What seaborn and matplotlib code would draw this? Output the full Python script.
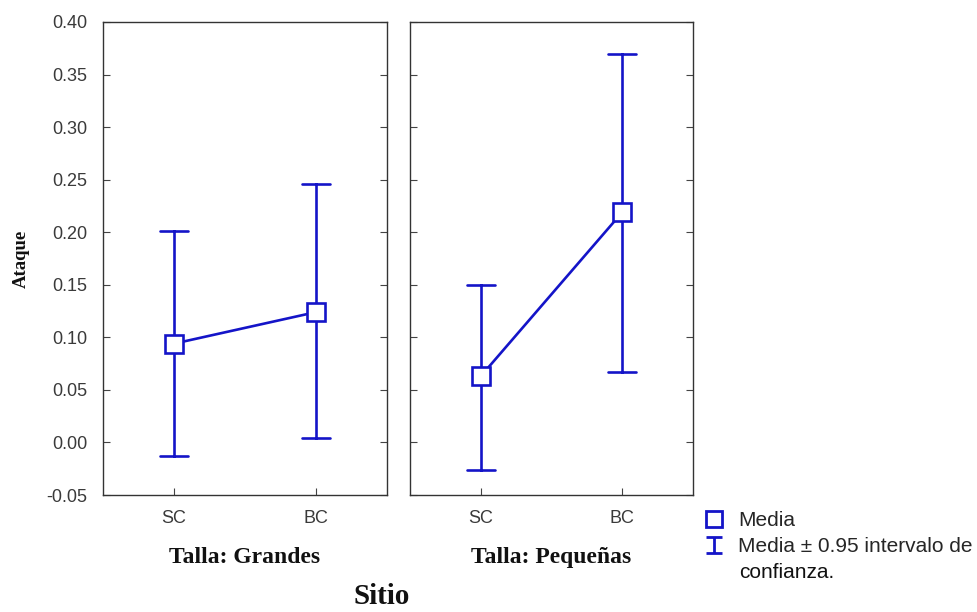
import matplotlib
matplotlib.use("Agg")
import matplotlib.pyplot as plt
from matplotlib.lines import Line2D
from matplotlib.path import Path
import seaborn as sns
import pandas as pd

# Group means with 95% confidence limits
sitios = ["SC", "BC"]
tallas = ["Talla: Grandes", "Talla: Pequeñas"]
media_grandes = [0.094, 0.124]
inf_grandes = [-0.013, 0.004]
sup_grandes = [0.201, 0.246]
media_pequenas = [0.063, 0.219]
inf_pequenas = [-0.026, 0.067]
sup_pequenas = [0.150, 0.370]
yticks = [-0.05, 0.00, 0.05, 0.10, 0.15, 0.20, 0.25, 0.30, 0.35, 0.40]

BLUE = "#1414c8"
sns.set_theme(style="white")
plt.rcParams["font.family"] = ["Liberation Sans", "DejaVu Sans"]

def long_form(media, inf, sup):
    rows = []
    for s, m, lo, hi in zip(sitios, media, inf, sup):
        for v in (lo, m, hi):
            rows.append({"Sitio": s, "Ataque": v})
    return pd.DataFrame(rows)

paneles = [
    long_form(media_grandes, inf_grandes, sup_grandes),
    long_form(media_pequenas, inf_pequenas, sup_pequenas),
]

fig = plt.figure(figsize=(9.78, 6.12), dpi=100)
W, H = 978, 612
boxes = [(103, 387), (410, 693)]
top, bottom = 22, 495
serif = dict(fontfamily="Liberation Serif", fontweight="bold", color="#111111")

for i, (df, (x0, x1), titulo) in enumerate(zip(paneles, boxes, tallas)):
    ax = fig.add_axes([x0 / W, 1 - bottom / H, (x1 - x0) / W, (bottom - top) / H])
    sns.pointplot(
        data=df, x="Sitio", y="Ataque", order=sitios, ax=ax,
        estimator="median", errorbar=lambda v: (v.min(), v.max()),
        color=BLUE, markers="s", capsize=0.2,
        linewidth=1.9,
        err_kws={"linewidth": 1.9, "zorder": 1},
        markersize=12.5, markerfacecolor="white", markeredgecolor=BLUE,
        markeredgewidth=1.9, zorder=3,
    )
    ax.set_xlim(-0.5, 1.5)
    ax.set_ylim(-0.05, 0.40)
    ax.set_yticks(yticks)
    ax.set_xlabel(titulo, fontsize=17, labelpad=14, **serif)
    ax.set_ylabel("")
    ax.tick_params(axis="both", direction="in", length=5, width=0.8,
                   colors="#444444", labelsize=13, labelcolor="#3a3a3a",
                   right=True, bottom=True, left=True, pad=11)
    if i == 0:
        ax.set_yticklabels([f"{t:.2f}" for t in yticks])
        ax.set_ylabel("Ataque", fontsize=13.5, labelpad=12, **serif)
    else:
        ax.set_yticklabels([])
    for sp in ax.spines.values():
        sp.set_visible(True)
        sp.set_color("#333333")
        sp.set_linewidth(1.0)

fig.text(382 / W, 1 - 597 / H, "Sitio", ha="center", va="center",
         fontsize=21, **serif)

# Legend: mean marker and confidence-interval glyph
ibar = Path([(-1, 1), (1, 1), (0, 1), (0, -1), (-1, -1), (1, -1)],
            [Path.MOVETO, Path.LINETO, Path.MOVETO, Path.LINETO,
             Path.MOVETO, Path.LINETO])
handles = [
    Line2D([], [], linestyle="none", marker="s", markersize=11,
           markerfacecolor="white", markeredgecolor=BLUE, markeredgewidth=2.0),
    Line2D([], [], linestyle="none", marker=ibar, markersize=12,
           markerfacecolor="none", markeredgecolor=BLUE, markeredgewidth=2.0),
]
fig.legend(handles, ["Media", "Media ± 0.95 intervalo de"],
           loc="upper left", bbox_to_anchor=(706 / W, 1 - 511 / H),
           frameon=False, fontsize=15, handlelength=0.8, handletextpad=0.75,
           labelspacing=0.36, borderaxespad=0, borderpad=0)
fig.text(739 / W, 1 - 573 / H, "confianza.", ha="left", va="center",
         fontsize=15, color="#111111")

fig.savefig("out.png", dpi=100)
